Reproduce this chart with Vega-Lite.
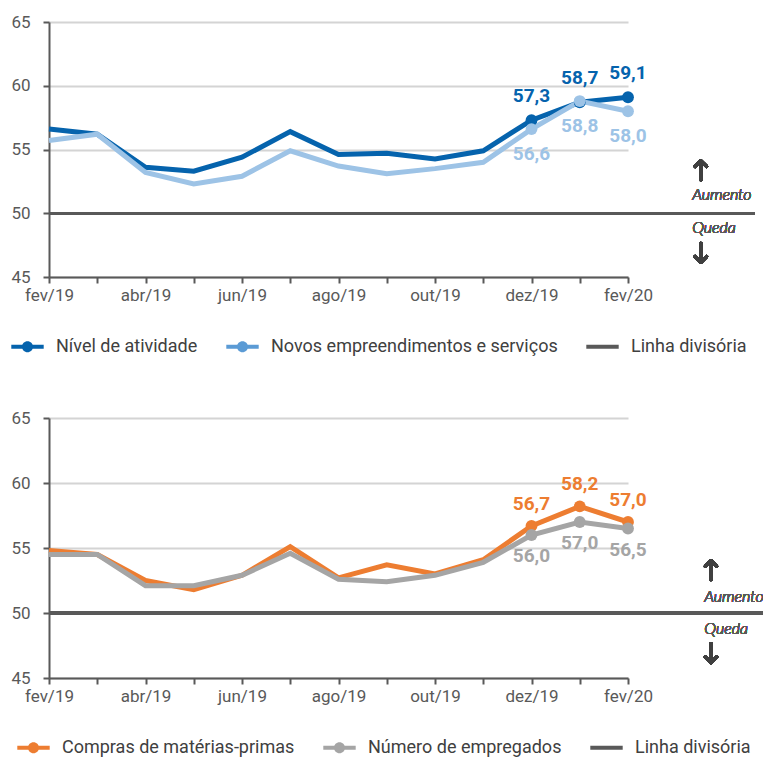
{
  "$schema": "https://vega.github.io/schema/vega-lite/v6.json",
  "padding": {"left": 10, "top": 13, "right": 0, "bottom": 0},
  "background": "white",
  "config": {
    "locale": {"number": {"decimal": ",", "thousands": ".", "grouping": [3], "currency": ["R$", ""]}},
    "font": "Roboto, sans-serif",
    "view": {"stroke": null},
    "axis": {"labelFont": "Roboto, sans-serif", "labelFontSize": 17, "labelColor": "#595959", "domainColor": "#595959", "tickColor": "#595959", "domainWidth": 2, "tickWidth": 2, "tickSize": 6, "title": null, "labelFlush": false},
    "legend": {"labelFont": "Roboto, sans-serif", "labelFontSize": 18, "labelColor": "#404040", "labelLimit": 0, "orient": "none", "direction": "horizontal", "padding": 0, "symbolSize": 1050, "labelOffset": 12, "columnPadding": 28, "title": null}
  },
  "datasets": {
    "topo": [
      {"mes": 0, "serie": "Nível de atividade", "valor": 56.6},
      {"mes": 1, "serie": "Nível de atividade", "valor": 56.2},
      {"mes": 2, "serie": "Nível de atividade", "valor": 53.6},
      {"mes": 3, "serie": "Nível de atividade", "valor": 53.3},
      {"mes": 4, "serie": "Nível de atividade", "valor": 54.4},
      {"mes": 5, "serie": "Nível de atividade", "valor": 56.4},
      {"mes": 6, "serie": "Nível de atividade", "valor": 54.6},
      {"mes": 7, "serie": "Nível de atividade", "valor": 54.7},
      {"mes": 8, "serie": "Nível de atividade", "valor": 54.25},
      {"mes": 9, "serie": "Nível de atividade", "valor": 54.9},
      {"mes": 10, "serie": "Nível de atividade", "valor": 57.3},
      {"mes": 11, "serie": "Nível de atividade", "valor": 58.7},
      {"mes": 12, "serie": "Nível de atividade", "valor": 59.1},
      {"mes": 0, "serie": "Novos empreendimentos e serviços", "valor": 55.7},
      {"mes": 1, "serie": "Novos empreendimentos e serviços", "valor": 56.2},
      {"mes": 2, "serie": "Novos empreendimentos e serviços", "valor": 53.2},
      {"mes": 3, "serie": "Novos empreendimentos e serviços", "valor": 52.3},
      {"mes": 4, "serie": "Novos empreendimentos e serviços", "valor": 52.9},
      {"mes": 5, "serie": "Novos empreendimentos e serviços", "valor": 54.9},
      {"mes": 6, "serie": "Novos empreendimentos e serviços", "valor": 53.7},
      {"mes": 7, "serie": "Novos empreendimentos e serviços", "valor": 53.1},
      {"mes": 8, "serie": "Novos empreendimentos e serviços", "valor": 53.5},
      {"mes": 9, "serie": "Novos empreendimentos e serviços", "valor": 54.0},
      {"mes": 10, "serie": "Novos empreendimentos e serviços", "valor": 56.6},
      {"mes": 11, "serie": "Novos empreendimentos e serviços", "valor": 58.8},
      {"mes": 12, "serie": "Novos empreendimentos e serviços", "valor": 58.0}
    ],
    "base": [
      {"mes": 0, "serie": "Compras de matérias-primas", "valor": 54.8},
      {"mes": 1, "serie": "Compras de matérias-primas", "valor": 54.5},
      {"mes": 2, "serie": "Compras de matérias-primas", "valor": 52.5},
      {"mes": 3, "serie": "Compras de matérias-primas", "valor": 51.8},
      {"mes": 4, "serie": "Compras de matérias-primas", "valor": 52.9},
      {"mes": 5, "serie": "Compras de matérias-primas", "valor": 55.1},
      {"mes": 6, "serie": "Compras de matérias-primas", "valor": 52.7},
      {"mes": 7, "serie": "Compras de matérias-primas", "valor": 53.7},
      {"mes": 8, "serie": "Compras de matérias-primas", "valor": 53.0},
      {"mes": 9, "serie": "Compras de matérias-primas", "valor": 54.1},
      {"mes": 10, "serie": "Compras de matérias-primas", "valor": 56.7},
      {"mes": 11, "serie": "Compras de matérias-primas", "valor": 58.2},
      {"mes": 12, "serie": "Compras de matérias-primas", "valor": 57.0},
      {"mes": 0, "serie": "Número de empregados", "valor": 54.5},
      {"mes": 1, "serie": "Número de empregados", "valor": 54.5},
      {"mes": 2, "serie": "Número de empregados", "valor": 52.1},
      {"mes": 3, "serie": "Número de empregados", "valor": 52.1},
      {"mes": 4, "serie": "Número de empregados", "valor": 52.9},
      {"mes": 5, "serie": "Número de empregados", "valor": 54.6},
      {"mes": 6, "serie": "Número de empregados", "valor": 52.6},
      {"mes": 7, "serie": "Número de empregados", "valor": 52.4},
      {"mes": 8, "serie": "Número de empregados", "valor": 52.9},
      {"mes": 9, "serie": "Número de empregados", "valor": 53.9},
      {"mes": 10, "serie": "Número de empregados", "valor": 56.0},
      {"mes": 11, "serie": "Número de empregados", "valor": 57.0},
      {"mes": 12, "serie": "Número de empregados", "valor": 56.5}
    ]
  },
  "spacing": 53,
  "resolve": {"scale": {"color": "independent", "x": "independent", "y": "independent"}, "legend": {"color": "independent"}},
  "vconcat": [
    {
      "width": 579,
      "height": 255,
      "data": {"name": "topo"},
      "encoding": {
        "x": {"field": "mes", "type": "quantitative", "scale": {"domain": [0, 12], "nice": false, "zero": false},
              "axis": {"values": [0,1,2,3,4,5,6,7,8,9,10,11,12], "grid": false, "labelPadding": 4, "labelOverlap": false,
                       "labelExpr": "datum.value % 2 == 0 ? ['fev/19','abr/19','jun/19','ago/19','out/19','dez/19','fev/20'][datum.value/2] : ''"}},
        "y": {"field": "valor", "type": "quantitative", "scale": {"domain": [45, 65], "nice": false, "zero": false},
              "axis": {"values": [45,50,55,60,65], "grid": true, "gridColor": "#d4d4d4", "gridWidth": 2, "labelPadding": 13}}
      },
      "layer": [
        {
          "mark": {"type": "rule", "strokeWidth": 2.5},
          "encoding": {
            "x": {"datum": 0, "type": "quantitative"},
            "x2": {"datum": 14.63},
            "y": {"datum": 50, "type": "quantitative"},
            "color": {"datum": "Linha divisória", "type": "nominal"}
          }
        },
        {
          "transform": [{"filter": "datum.serie == 'Nível de atividade'"}],
          "mark": {"type": "line", "strokeWidth": 5},
          "encoding": {
            "color": {"field": "serie", "type": "nominal",
              "scale": {"domain": ["Nível de atividade", "Novos empreendimentos e serviços", "Linha divisória"], "range": ["#0563ad", "#9dc3e6", "#595959"]},
              "legend": {"legendX": -38, "legendY": 308,
                "encode": {"symbols": {"update": {
                  "shape": {"signal": "datum.value == 'Linha divisória' ? 'M-1,-0.13L1,-0.13L1,0.13L-1,0.13Z' : 'M-1,-0.13L1,-0.13L1,0.13L-1,0.13Z M-0.34,0A0.34,0.34,0,1,1,0.34,0A0.34,0.34,0,1,1,-0.34,0Z'"},
                  "fill": {"signal": "datum.value == 'Linha divisória' ? '#595959' : datum.value == 'Nível de atividade' ? '#0563ad' : '#5b9bd5'"},
                  "stroke": {"value": "transparent"},
                  "strokeWidth": {"value": 0},
                  "opacity": {"value": 1}
                }}}}
            }
          }
        },
        {
          "transform": [{"filter": "datum.serie == 'Novos empreendimentos e serviços'"}],
          "mark": {"type": "line", "strokeWidth": 5},
          "encoding": {"color": {"field": "serie", "type": "nominal"}}
        },
        {
          "transform": [{"filter": "datum.serie == 'Nível de atividade' && datum.mes >= 10"}],
          "mark": {"type": "point", "filled": true, "opacity": 1, "size": 140, "color": "#0563ad"}
        },
        {
          "transform": [{"filter": "datum.serie == 'Novos empreendimentos e serviços' && datum.mes >= 10"}],
          "mark": {"type": "point", "filled": true, "opacity": 1, "size": 140, "color": "#9dc3e6"}
        },
        {
          "transform": [{"filter": "datum.serie == 'Nível de atividade' && datum.mes >= 10"}],
          "mark": {"type": "text", "dy": -24, "fontSize": 19, "fontWeight": "bold", "color": "#0563ad"},
          "encoding": {"text": {"field": "valor", "type": "quantitative", "format": ".1f"}}
        },
        {
          "transform": [{"filter": "datum.serie == 'Novos empreendimentos e serviços' && datum.mes >= 10"}],
          "mark": {"type": "text", "dy": 25, "fontSize": 19, "fontWeight": "bold", "color": "#9dc3e6"},
          "encoding": {"text": {"field": "valor", "type": "quantitative", "format": ".1f"}}
        },
        {
          "mark": {"type": "point", "shape": "M0,1L0,-1M-0.6,-0.4L0,-1L0.6,-0.4", "size": 360, "filled": false, "opacity": 1, "strokeWidth": 3.2, "strokeCap": "round", "strokeJoin": "round", "color": "#404040"},
          "encoding": {"x": {"datum": 13.51, "type": "quantitative"}, "y": {"datum": 53.37, "type": "quantitative"}}
        },
        {
          "mark": {"type": "text", "text": "Aumento", "fontSize": 16, "fontStyle": "italic", "fontWeight": 300, "font": "Lato", "align": "left", "color": "#595959"},
          "encoding": {"x": {"datum": 13.33, "type": "quantitative"}, "y": {"datum": 51.41, "type": "quantitative"}}
        },
        {
          "mark": {"type": "text", "text": "Queda", "fontSize": 16, "fontStyle": "italic", "fontWeight": 300, "font": "Lato", "align": "left", "color": "#595959"},
          "encoding": {"x": {"datum": 13.33, "type": "quantitative"}, "y": {"datum": 48.82, "type": "quantitative"}}
        },
        {
          "mark": {"type": "point", "shape": "M0,-1L0,1M-0.6,0.4L0,1L0.6,0.4", "size": 360, "filled": false, "opacity": 1, "strokeWidth": 3.2, "strokeCap": "round", "strokeJoin": "round", "color": "#404040"},
          "encoding": {"x": {"datum": 13.51, "type": "quantitative"}, "y": {"datum": 46.9, "type": "quantitative"}}
        }
      ]
    },
    {
      "width": 579,
      "height": 260,
      "data": {"name": "base"},
      "encoding": {
        "x": {"field": "mes", "type": "quantitative", "scale": {"domain": [0, 12], "nice": false, "zero": false},
              "axis": {"values": [0,1,2,3,4,5,6,7,8,9,10,11,12], "grid": false, "labelPadding": 4, "labelOverlap": false,
                       "labelExpr": "datum.value % 2 == 0 ? ['fev/19','abr/19','jun/19','ago/19','out/19','dez/19','fev/20'][datum.value/2] : ''"}},
        "y": {"field": "valor", "type": "quantitative", "scale": {"domain": [45, 65], "nice": false, "zero": false},
              "axis": {"values": [45,50,55,60,65], "grid": true, "gridColor": "#d4d4d4", "gridWidth": 2, "labelPadding": 13}}
      },
      "layer": [
        {
          "mark": {"type": "rule", "strokeWidth": 2.5},
          "encoding": {
            "x": {"datum": 0, "type": "quantitative"},
            "x2": {"datum": 15.2},
            "y": {"datum": 50, "type": "quantitative"},
            "color": {"datum": "Linha divisória", "type": "nominal"}
          }
        },
        {
          "transform": [{"filter": "datum.serie == 'Compras de matérias-primas'"}],
          "mark": {"type": "line", "strokeWidth": 5},
          "encoding": {
            "color": {"field": "serie", "type": "nominal",
              "scale": {"domain": ["Compras de matérias-primas", "Número de empregados", "Linha divisória"], "range": ["#ed7d31", "#a5a5a5", "#595959"]},
              "legend": {"legendX": -32, "legendY": 313,
                "encode": {"symbols": {"update": {
                  "shape": {"signal": "datum.value == 'Linha divisória' ? 'M-1,-0.13L1,-0.13L1,0.13L-1,0.13Z' : 'M-1,-0.13L1,-0.13L1,0.13L-1,0.13Z M-0.34,0A0.34,0.34,0,1,1,0.34,0A0.34,0.34,0,1,1,-0.34,0Z'"},
                  "fill": {"signal": "datum.value == 'Linha divisória' ? '#595959' : datum.value == 'Compras de matérias-primas' ? '#ed7d31' : '#a5a5a5'"},
                  "stroke": {"value": "transparent"},
                  "strokeWidth": {"value": 0},
                  "opacity": {"value": 1}
                }}}}
            }
          }
        },
        {
          "transform": [{"filter": "datum.serie == 'Número de empregados'"}],
          "mark": {"type": "line", "strokeWidth": 5},
          "encoding": {"color": {"field": "serie", "type": "nominal"}}
        },
        {
          "transform": [{"filter": "datum.serie == 'Compras de matérias-primas' && datum.mes >= 10"}],
          "mark": {"type": "point", "filled": true, "opacity": 1, "size": 140, "color": "#ed7d31"}
        },
        {
          "transform": [{"filter": "datum.serie == 'Número de empregados' && datum.mes >= 10"}],
          "mark": {"type": "point", "filled": true, "opacity": 1, "size": 140, "color": "#a5a5a5"}
        },
        {
          "transform": [{"filter": "datum.serie == 'Compras de matérias-primas' && datum.mes >= 10"}],
          "mark": {"type": "text", "dy": -22, "fontSize": 19, "fontWeight": "bold", "color": "#ed7d31"},
          "encoding": {"text": {"field": "valor", "type": "quantitative", "format": ".1f"}}
        },
        {
          "transform": [{"filter": "datum.serie == 'Número de empregados' && datum.mes >= 10"}],
          "mark": {"type": "text", "dy": 21, "fontSize": 19, "fontWeight": "bold", "color": "#a5a5a5"},
          "encoding": {"text": {"field": "valor", "type": "quantitative", "format": ".1f"}}
        },
        {
          "mark": {"type": "point", "shape": "M0,1L0,-1M-0.6,-0.4L0,-1L0.6,-0.4", "size": 360, "filled": false, "opacity": 1, "strokeWidth": 3.2, "strokeCap": "round", "strokeJoin": "round", "color": "#404040"},
          "encoding": {"x": {"datum": 13.72, "type": "quantitative"}, "y": {"datum": 53.3, "type": "quantitative"}}
        },
        {
          "mark": {"type": "text", "text": "Aumento", "fontSize": 16, "fontStyle": "italic", "fontWeight": 300, "font": "Lato", "align": "left", "color": "#595959"},
          "encoding": {"x": {"datum": 13.58, "type": "quantitative"}, "y": {"datum": 51.23, "type": "quantitative"}}
        },
        {
          "mark": {"type": "text", "text": "Queda", "fontSize": 16, "fontStyle": "italic", "fontWeight": 300, "font": "Lato", "align": "left", "color": "#595959"},
          "encoding": {"x": {"datum": 13.58, "type": "quantitative"}, "y": {"datum": 48.77, "type": "quantitative"}}
        },
        {
          "mark": {"type": "point", "shape": "M0,-1L0,1M-0.6,0.4L0,1L0.6,0.4", "size": 360, "filled": false, "opacity": 1, "strokeWidth": 3.2, "strokeCap": "round", "strokeJoin": "round", "color": "#404040"},
          "encoding": {"x": {"datum": 13.72, "type": "quantitative"}, "y": {"datum": 46.92, "type": "quantitative"}}
        }
      ]
    }
  ]
}
